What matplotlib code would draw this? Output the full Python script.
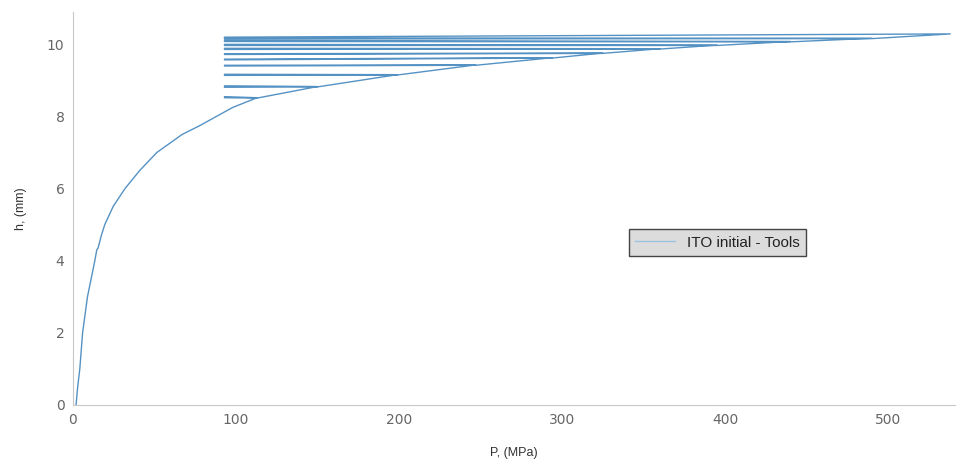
import numpy as np
import matplotlib
matplotlib.use("Agg")
import matplotlib.pyplot as plt

# Curva de carga inicial (P en MPa, h en mm)
P_carga = [2, 3, 4.3, 6, 9, 13.5, 14.7, 15.5, 17.5, 19.6, 24.7, 32, 41, 51.5, 67, 78, 88, 98, 113]
h_carga = [0, 0.5, 1, 2, 3, 4, 4.3, 4.35, 4.7, 5, 5.5, 6, 6.5, 7, 7.5, 7.75, 8, 8.25, 8.52]

# Ciclos de descarga / recarga
P_pico = [113, 150, 199, 247, 294, 325, 360, 395, 440, 490, 538]
h_pico = [8.52, 8.83, 9.16, 9.43, 9.63, 9.76, 9.88, 9.98, 10.08, 10.17, 10.29]
h_descarga = [8.55, 8.85, 9.17, 9.42, 9.59, 9.74, 9.89, 10.00, 10.11, 10.18, 10.20]
h_recarga = [8.52, 8.81, 9.14, 9.40, 9.57, 9.72, 9.86, 9.97, 10.08, 10.15]
P_min = 93

etiqueta = "ITO initial - Tools"

# Armamos el recorrido completo
P = list(P_carga[:-1])
h = list(h_carga[:-1])
for i in range(len(P_pico)):
    P += [P_pico[i], P_min]
    h += [h_pico[i], h_descarga[i]]
    if i < len(h_recarga):
        P += [P_min, P_pico[i]]
        h += [h_recarga[i], h_pico[i] - 0.01]

fig = plt.figure(figsize=(9.58, 4.59), dpi=100)
ax = fig.add_axes([0.076, 0.118, 0.921, 0.856])

ax.plot(P, h, color="#5592c4", lw=1, label=etiqueta)

ax.set_xlim(0, 541)
ax.set_ylim(0, 10.9)
ax.set_xticks([0, 100, 200, 300, 400, 500])
ax.set_yticks([0, 2, 4, 6, 8, 10])
ax.tick_params(length=0, labelsize=10, labelcolor="#666666", pad=6)

for lado in ["top", "right"]:
    ax.spines[lado].set_visible(False)
for lado in ["left", "bottom"]:
    ax.spines[lado].set_color("#c8c8c8")

ax.set_xlabel("P, (MPa)", fontsize=9, family="Liberation Sans", color="#333333", labelpad=14)
ax.set_ylabel("h, (mm)", fontsize=9, family="Liberation Sans", color="#333333", labelpad=14)

leg = ax.legend(loc="center", bbox_to_anchor=(0.731, 0.413), fancybox=False,
                prop={"family": "Liberation Sans", "size": 11}, handlelength=2.6,
                borderpad=0.4, framealpha=1)
leg.get_frame().set_facecolor("#dcdcdc")
leg.get_frame().set_edgecolor("#444444")
leg.get_texts()[0].set_color("#222222")
leg.get_lines()[0].set_color("#9cc3e0")

fig.savefig("out.png")
